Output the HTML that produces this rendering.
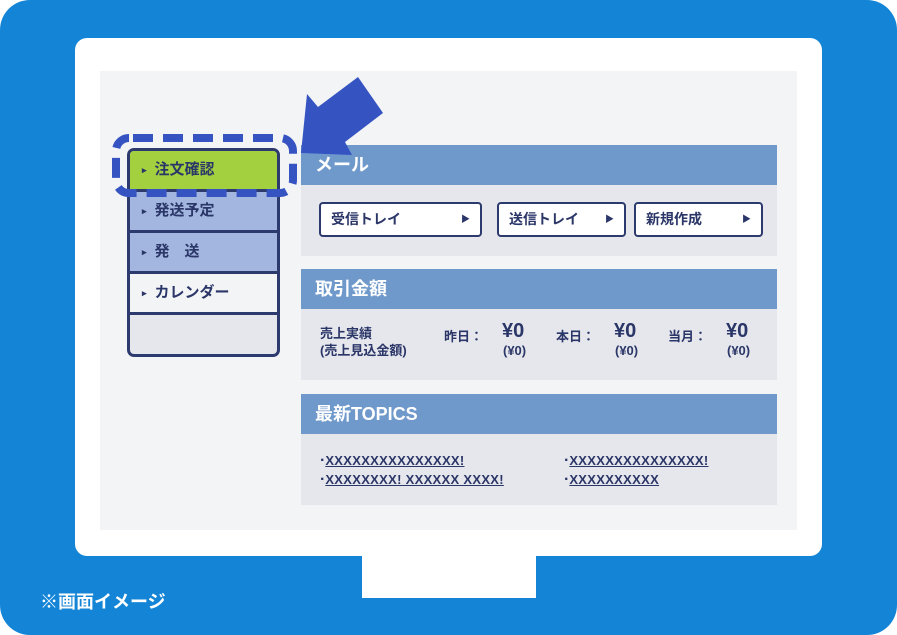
<!DOCTYPE html>
<html><head><meta charset="utf-8"><style>
*{margin:0;padding:0;box-sizing:border-box}
body{width:897px;height:635px;overflow:hidden;background:#fff;font-family:"Liberation Sans","Noto Sans CJK JP",sans-serif;font-weight:bold;color:#2b3668}
.a{position:absolute}
.bg{left:0;top:0;width:897px;height:635px;background:#1485d6;border-radius:30px}
.mon{left:75px;top:38px;width:747px;height:518px;background:#fff;border-radius:12px}
.scr{left:100px;top:71px;width:697px;height:459px;background:#f3f4f6}
.stand{left:362px;top:556px;width:174px;height:42px;background:#fff}
.cap{left:40px;top:588px;color:#fff;font-size:18px}
.side{left:127px;top:148px;width:153px;height:209px;border:3px solid #2d3a6e;border-radius:7px;overflow:hidden;background:#e6e7ec}
.it{height:41px;border-bottom:3px solid #2d3a6e;font-size:15px;line-height:38px;padding-left:12px}
.it:before{content:"▸";font-size:9px;margin-right:8px;vertical-align:1px}
.hd{left:301px;width:476px;height:40px;background:#7099cb;color:#fff;font-size:18px;line-height:40px;padding-left:14px}
.bd{left:301px;width:476px;height:71px;background:#e6e7ec}
.btn{top:202px;height:35px;background:#fff;border:2.5px solid #2d3a6e;border-radius:4px;font-size:14px;line-height:30px;padding-left:10px}
.btn span{position:absolute;right:10px;font-size:9px}
.s{font-size:13px}
.u{text-decoration:underline;font-size:13px;letter-spacing:0.3px}
</style></head><body>
<div class="a bg"></div>
<div class="a mon"></div>
<div class="a scr"></div>
<div class="a stand"></div>
<div class="a cap">※画面イメージ</div>

<div class="a side">
<div class="it" style="background:#a3d03f">注文確認</div>
<div class="it" style="background:#a2b6df">発送予定</div>
<div class="it" style="background:#a2b6df">発　送</div>
<div class="it" style="background:#f3f4f6">カレンダー</div>
</div>

<div class="a hd" style="top:145px">メール</div>
<div class="a bd" style="top:185px"></div>
<div class="a btn" style="left:319px;width:163px">受信トレイ<span>▶</span></div>
<div class="a btn" style="left:497px;width:129px">送信トレイ<span>▶</span></div>
<div class="a btn" style="left:634px;width:129px">新規作成<span>▶</span></div>

<svg class="a" style="left:0;top:0" width="897" height="635">
<rect x="116" y="138" width="177" height="55" rx="13" fill="none" stroke="#3554c2" stroke-width="8" stroke-dasharray="20 10" stroke-dashoffset="-4"/>
<polygon points="301,153 307,94 318,107 358,77 383,113 345,142 352,155" fill="#3554c2"/>
</svg>

<div class="a hd" style="top:269px">取引金額</div>
<div class="a bd" style="top:309px"></div>
<div class="a s" style="left:320px;top:325px;line-height:17px">売上実績<br>(売上見込金額)</div>
<div class="a s" style="left:444px;top:326px">昨日：</div>
<div class="a s" style="left:556px;top:326px">本日：</div>
<div class="a s" style="left:668px;top:326px">当月：</div>
<div class="a" style="left:502px;top:320px;font-size:20px">¥0</div>
<div class="a" style="left:614px;top:320px;font-size:20px">¥0</div>
<div class="a" style="left:726px;top:320px;font-size:20px">¥0</div>
<div class="a s" style="left:503px;top:343px">(¥0)</div>
<div class="a s" style="left:615px;top:343px">(¥0)</div>
<div class="a s" style="left:727px;top:343px">(¥0)</div>

<div class="a hd" style="top:394px">最新TOPICS</div>
<div class="a bd" style="top:434px"></div>
<div class="a" style="left:320px;top:451px;line-height:19px">·<span class="u">XXXXXXXXXXXXXXX!</span><br>·<span class="u">XXXXXXXX! XXXXXX XXXX!</span></div>
<div class="a" style="left:564px;top:451px;line-height:19px">·<span class="u">XXXXXXXXXXXXXXX!</span><br>·<span class="u">XXXXXXXXXX</span></div>
</body></html>
